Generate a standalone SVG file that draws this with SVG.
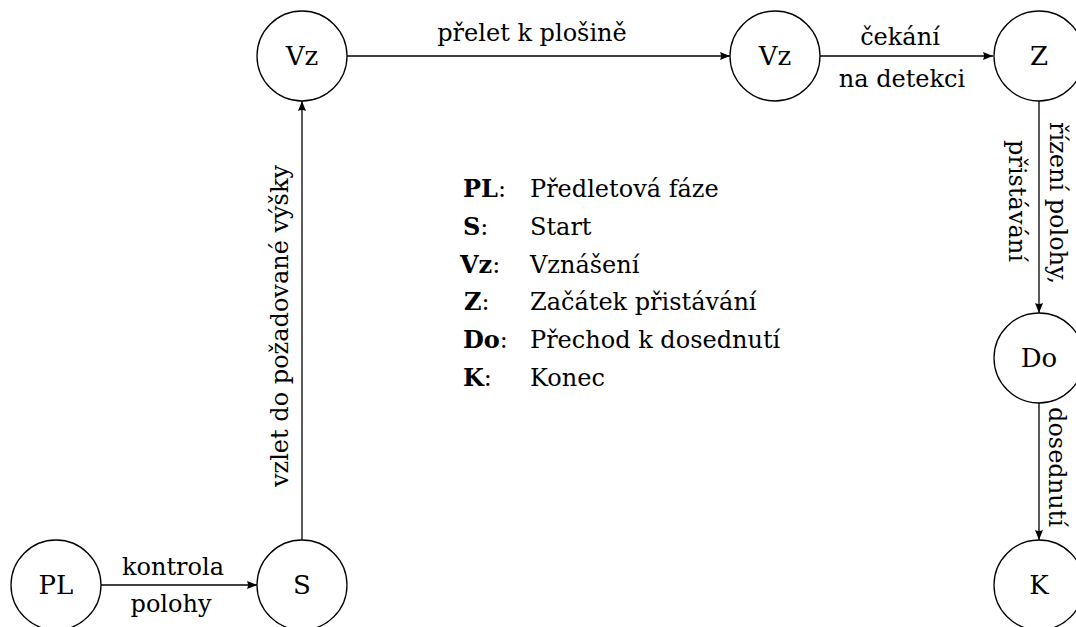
<svg xmlns="http://www.w3.org/2000/svg" width="1076" height="627" viewBox="0 0 1076 627">
<style>
text{font-family:"DejaVu Serif",serif;font-size:24px;fill:#000}
.n circle{fill:#fff;stroke:#000;stroke-width:1.3}
.n text{text-anchor:middle;font-size:26px}
.c line{stroke:#000;stroke-width:1.3;fill:none;marker-end:url(#ah)}
.lbl{text-anchor:middle}
.b{font-weight:bold}
</style>
<defs>
<marker id="ah" markerUnits="userSpaceOnUse" markerWidth="12" markerHeight="10" refX="10" refY="4" orient="auto">
<path d="M0,0 L10,4 L0,8 Q2,4 0,0 z" fill="#000"/>
</marker>
</defs>
<rect width="1076" height="627" fill="#fff"/>
<g id="connectors" class="c">
<line x1="101" y1="585" x2="257" y2="585"/>
<line x1="302" y1="540" x2="302" y2="101"/>
<line x1="347" y1="56" x2="730" y2="56"/>
<line x1="820" y1="56" x2="993" y2="56"/>
<line x1="1039" y1="101" x2="1039" y2="313"/>
<line x1="1039" y1="403" x2="1039" y2="540"/>
</g>
<g id="edge-labels">
<text class="lbl" x="173" y="575">kontrola</text>
<text class="lbl" x="171" y="612">polohy</text>
<text class="lbl" x="532" y="41">přelet k plošině</text>
<text class="lbl" x="900" y="45">čekání</text>
<text class="lbl" x="902" y="87">na detekci</text>
<text class="lbl" transform="translate(288,326) rotate(-90)">vzlet do požadované výšky</text>
<text class="lbl" transform="translate(1050,203) rotate(90)">řízení polohy,</text>
<text class="lbl" transform="translate(1009,201) rotate(90)">přistávání</text>
<text class="lbl" transform="translate(1049,467) rotate(90)">dosednutí</text>
</g>
<g id="node-PL" class="n"><circle cx="56" cy="585" r="45"/><text x="56" y="594">PL</text></g>
<g id="node-S" class="n"><circle cx="302" cy="585" r="45"/><text x="302" y="594">S</text></g>
<g id="node-Vz1" class="n"><circle cx="302" cy="56" r="45"/><text x="302" y="65">Vz</text></g>
<g id="node-Vz2" class="n"><circle cx="775" cy="56" r="45"/><text x="775" y="65">Vz</text></g>
<g id="node-Z" class="n"><circle cx="1039" cy="56" r="45"/><text x="1039" y="65">Z</text></g>
<g id="node-Do" class="n"><circle cx="1039" cy="358" r="45"/><text x="1039" y="367">Do</text></g>
<g id="node-K" class="n"><circle cx="1039" cy="585" r="45"/><text x="1039" y="594">K</text></g>
<g id="legend">
<text x="463" y="197"><tspan class="b">PL</tspan>:</text><text x="530" y="197">Předletová fáze</text>
<text x="463" y="235"><tspan class="b">S</tspan>:</text><text x="530" y="235">Start</text>
<text x="460" y="273"><tspan class="b">Vz</tspan>:</text><text x="530" y="273">Vznášení</text>
<text x="464" y="310"><tspan class="b">Z</tspan>:</text><text x="530" y="310">Začátek přistávání</text>
<text x="463" y="348"><tspan class="b">Do</tspan>:</text><text x="530" y="348">Přechod k dosednutí</text>
<text x="463" y="386"><tspan class="b">K</tspan>:</text><text x="530" y="386">Konec</text>
</g>
</svg>
